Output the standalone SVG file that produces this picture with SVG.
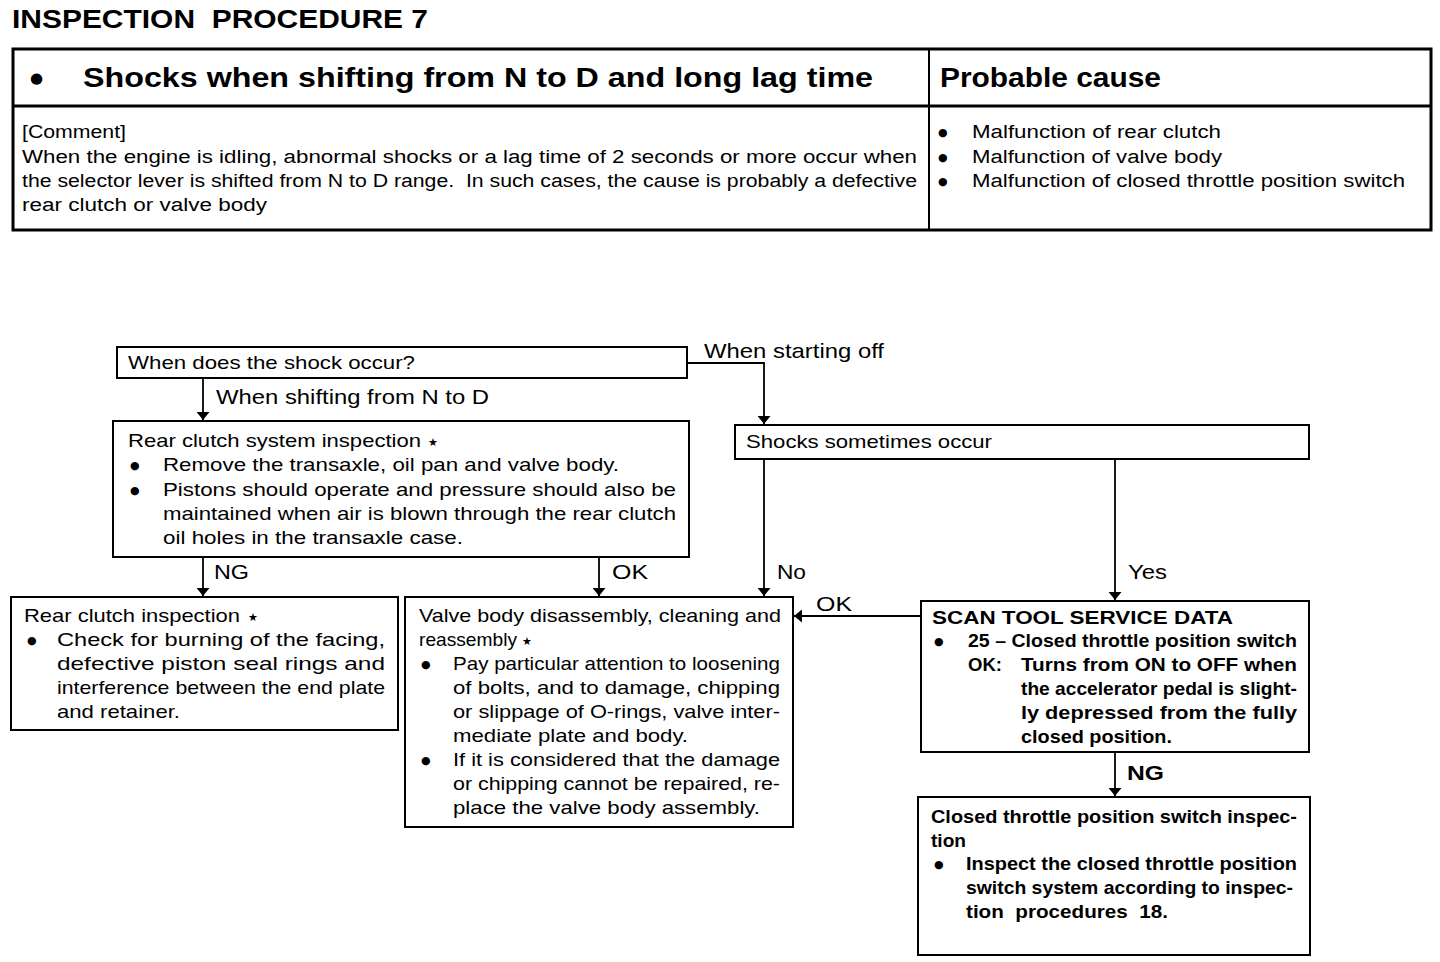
<svg xmlns="http://www.w3.org/2000/svg" width="1440" height="962" viewBox="0 0 1440 962">
<style>
text{font-family:"Liberation Sans",Arial,sans-serif;fill:#000;white-space:pre}
.t{font-size:19px}
.c{font-size:18px}
.lb{font-size:21px}
.b{font-weight:bold}
.bl{font-family:"DejaVu Sans",sans-serif;font-size:11px}
.bh{font-family:"DejaVu Sans",sans-serif;font-size:15px}
.st{font-family:"DejaVu Sans",sans-serif;font-size:11px}
.box{fill:#fff;stroke:#000;stroke-width:2}
.hdr{fill:none;stroke:#000;stroke-width:3}
.ln{fill:none;stroke:#000;stroke-width:1.8}
</style>
<defs>
<marker id="ar" viewBox="0 0 8 13" refX="8" refY="6.5" markerWidth="8" markerHeight="13" markerUnits="userSpaceOnUse" orient="auto">
<path d="M0,0 L8,6.5 L0,13 z" fill="#000"/>
</marker>
</defs>
<rect width="1440" height="962" fill="#fff"/>

<g id="title">
<text x="12" y="28" class="b" font-size="26" textLength="416" lengthAdjust="spacingAndGlyphs">INSPECTION  PROCEDURE 7</text>
</g>

<g id="header-table">
<rect x="13" y="49" width="1418" height="181" class="hdr"/>
<line x1="13" y1="106" x2="1431" y2="106" class="hdr"/>
<line x1="929" y1="49" x2="929" y2="230" stroke="#000" stroke-width="2"/>
<text x="30" y="83" class="bh">●</text>
<text x="83" y="87" class="b" font-size="27" textLength="790" lengthAdjust="spacingAndGlyphs">Shocks when shifting from N to D and long lag time</text>
<text x="940" y="87" class="b" font-size="27" textLength="221" lengthAdjust="spacingAndGlyphs">Probable cause</text>
<text x="22" y="138" class="c" textLength="104" lengthAdjust="spacingAndGlyphs">[Comment]</text>
<text x="22" y="163" class="c" textLength="895" lengthAdjust="spacingAndGlyphs">When the engine is idling, abnormal shocks or a lag time of 2 seconds or more occur when</text>
<text x="22" y="187" class="c" textLength="895" lengthAdjust="spacingAndGlyphs">the selector lever is shifted from N to D range.  In such cases, the cause is probably a defective</text>
<text x="22" y="211" class="c" textLength="245" lengthAdjust="spacingAndGlyphs">rear clutch or valve body</text>
<text x="938" y="136" class="bl">●</text>
<text x="972" y="138" class="c" textLength="249" lengthAdjust="spacingAndGlyphs">Malfunction of rear clutch</text>
<text x="938" y="161" class="bl">●</text>
<text x="972" y="163" class="c" textLength="250" lengthAdjust="spacingAndGlyphs">Malfunction of valve body</text>
<text x="938" y="185" class="bl">●</text>
<text x="972" y="187" class="c" textLength="433" lengthAdjust="spacingAndGlyphs">Malfunction of closed throttle position switch</text>
</g>

<g id="connectors">
<path d="M687,363 H764 V424" class="ln" marker-end="url(#ar)"/>
<path d="M203,378 V420" class="ln" marker-end="url(#ar)"/>
<path d="M203,557 V596" class="ln" marker-end="url(#ar)"/>
<path d="M599,557 V596" class="ln" marker-end="url(#ar)"/>
<path d="M764,459 V596" class="ln" marker-end="url(#ar)"/>
<path d="M1115,459 V600" class="ln" marker-end="url(#ar)"/>
<path d="M921,616 H794" class="ln" marker-end="url(#ar)"/>
<path d="M1115,752 V796" class="ln" marker-end="url(#ar)"/>
<text x="704" y="358" class="lb" textLength="180" lengthAdjust="spacingAndGlyphs">When starting off</text>
<text x="216" y="404" class="lb" textLength="273" lengthAdjust="spacingAndGlyphs">When shifting from N to D</text>
<text x="214" y="579" class="lb" textLength="35" lengthAdjust="spacingAndGlyphs">NG</text>
<text x="612" y="579" class="lb" textLength="36" lengthAdjust="spacingAndGlyphs">OK</text>
<text x="777" y="579" class="lb" textLength="29" lengthAdjust="spacingAndGlyphs">No</text>
<text x="1128" y="579" class="lb" textLength="39" lengthAdjust="spacingAndGlyphs">Yes</text>
<text x="816" y="611" class="lb" textLength="36" lengthAdjust="spacingAndGlyphs">OK</text>
<text x="1127" y="780" class="lb b" textLength="37" lengthAdjust="spacingAndGlyphs">NG</text>
</g>

<g id="n-when">
<rect x="117" y="347" width="570" height="31" class="box"/>
<text x="128" y="369" class="t" textLength="287" lengthAdjust="spacingAndGlyphs">When does the shock occur?</text>
</g>

<g id="n-shocks">
<rect x="735" y="425" width="574" height="34" class="box"/>
<text x="746" y="448" class="t" textLength="246" lengthAdjust="spacingAndGlyphs">Shocks sometimes occur</text>
</g>

<g id="n-rear-system">
<rect x="113" y="421" width="576" height="136" class="box"/>
<text x="128" y="447" class="t" textLength="293" lengthAdjust="spacingAndGlyphs">Rear clutch system inspection</text>
<text x="428" y="446" class="st">★</text>
<text x="130" y="469" class="bl">●</text>
<text x="163" y="471" class="t" textLength="456" lengthAdjust="spacingAndGlyphs">Remove the transaxle, oil pan and valve body.</text>
<text x="130" y="494" class="bl">●</text>
<text x="163" y="496" class="t" textLength="513" lengthAdjust="spacingAndGlyphs">Pistons should operate and pressure should also be</text>
<text x="163" y="520" class="t" textLength="513" lengthAdjust="spacingAndGlyphs">maintained when air is blown through the rear clutch</text>
<text x="163" y="544" class="t" textLength="300" lengthAdjust="spacingAndGlyphs">oil holes in the transaxle case.</text>
</g>

<g id="n-rear-clutch">
<rect x="11" y="597" width="387" height="133" class="box"/>
<text x="24" y="622" class="t" textLength="216" lengthAdjust="spacingAndGlyphs">Rear clutch inspection</text>
<text x="248" y="621" class="st">★</text>
<text x="27" y="644" class="bl">●</text>
<text x="57" y="646" class="t" textLength="328" lengthAdjust="spacingAndGlyphs">Check for burning of the facing,</text>
<text x="57" y="670" class="t" textLength="328" lengthAdjust="spacingAndGlyphs">defective piston seal rings and</text>
<text x="57" y="694" class="t" textLength="328" lengthAdjust="spacingAndGlyphs">interference between the end plate</text>
<text x="57" y="718" class="t" textLength="123" lengthAdjust="spacingAndGlyphs">and retainer.</text>
</g>

<g id="n-valve-body">
<rect x="405" y="597" width="388" height="230" class="box"/>
<text x="419" y="622" class="t" textLength="362" lengthAdjust="spacingAndGlyphs">Valve body disassembly, cleaning and</text>
<text x="419" y="646" class="t" textLength="98" lengthAdjust="spacingAndGlyphs">reassembly</text>
<text x="522" y="645" class="st">★</text>
<text x="421" y="668" class="bl">●</text>
<text x="453" y="670" class="t" textLength="327" lengthAdjust="spacingAndGlyphs">Pay particular attention to loosening</text>
<text x="453" y="694" class="t" textLength="327" lengthAdjust="spacingAndGlyphs">of bolts, and to damage, chipping</text>
<text x="453" y="718" class="t" textLength="327" lengthAdjust="spacingAndGlyphs">or slippage of O-rings, valve inter-</text>
<text x="453" y="742" class="t" textLength="235" lengthAdjust="spacingAndGlyphs">mediate plate and body.</text>
<text x="421" y="764" class="bl">●</text>
<text x="453" y="766" class="t" textLength="327" lengthAdjust="spacingAndGlyphs">If it is considered that the damage</text>
<text x="453" y="790" class="t" textLength="327" lengthAdjust="spacingAndGlyphs">or chipping cannot be repaired, re-</text>
<text x="453" y="814" class="t" textLength="307" lengthAdjust="spacingAndGlyphs">place the valve body assembly.</text>
</g>

<g id="n-scan-tool">
<rect x="921" y="601" width="388" height="151" class="box"/>
<text x="932" y="624" class="t b" textLength="301" lengthAdjust="spacingAndGlyphs">SCAN TOOL SERVICE DATA</text>
<text x="934" y="645" class="bl">●</text>
<text x="968" y="647" class="t b" textLength="329" lengthAdjust="spacingAndGlyphs">25 – Closed throttle position switch</text>
<text x="968" y="671" class="t b" textLength="34" lengthAdjust="spacingAndGlyphs">OK:</text>
<text x="1021" y="671" class="t b" textLength="276" lengthAdjust="spacingAndGlyphs">Turns from ON to OFF when</text>
<text x="1021" y="695" class="t b" textLength="276" lengthAdjust="spacingAndGlyphs">the accelerator pedal is slight-</text>
<text x="1021" y="719" class="t b" textLength="276" lengthAdjust="spacingAndGlyphs">ly depressed from the fully</text>
<text x="1021" y="743" class="t b" textLength="151" lengthAdjust="spacingAndGlyphs">closed position.</text>
</g>

<g id="n-closed-throttle">
<rect x="918" y="797" width="392" height="158" class="box"/>
<text x="931" y="823" class="t b" textLength="366" lengthAdjust="spacingAndGlyphs">Closed throttle position switch inspec-</text>
<text x="931" y="847" class="t b" textLength="35" lengthAdjust="spacingAndGlyphs">tion</text>
<text x="934" y="868" class="bl">●</text>
<text x="966" y="870" class="t b" textLength="331" lengthAdjust="spacingAndGlyphs">Inspect the closed throttle position</text>
<text x="966" y="894" class="t b" textLength="327" lengthAdjust="spacingAndGlyphs">switch system according to inspec-</text>
<text x="966" y="918" class="t b" textLength="202" lengthAdjust="spacingAndGlyphs">tion  procedures  18.</text>
</g>
</svg>
